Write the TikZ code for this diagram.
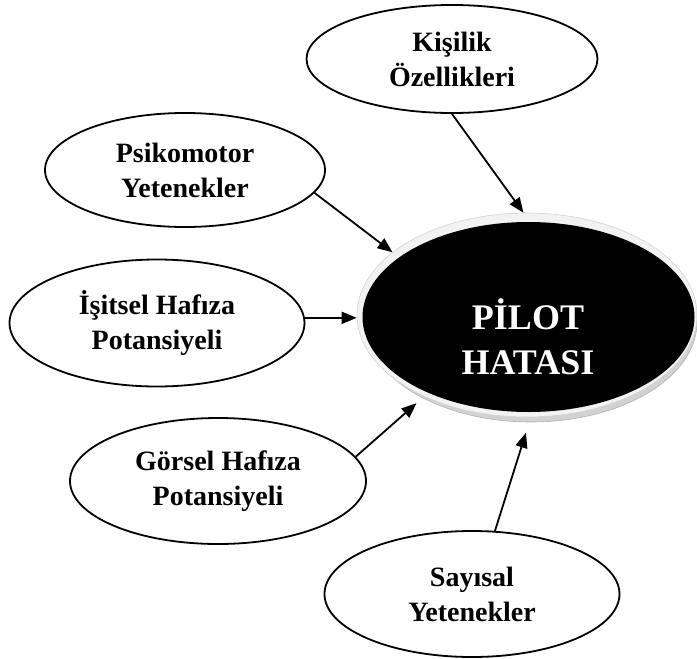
\documentclass[tikz,border=0pt]{standalone}
\usepackage{fontspec}
\setmainfont{Liberation Serif}
\usetikzlibrary{arrows.meta,shapes.geometric}

\tikzset{
  factor/.style={ellipse, draw=black, line width=1.8pt, fill=white,
    inner sep=0pt, align=center, font=\bfseries\fontsize{28}{35}\selectfont},
  link/.style={line width=1.8pt, -{Triangle[length=15pt,width=12pt]}},
}

\begin{document}
\begin{tikzpicture}[x=1pt,y=-1pt]
  \useasboundingbox (0,0) rectangle (697,659);

  % central element: shadow band, light rim and black body
  \node[ellipse, minimum width=332pt, minimum height=200pt, inner sep=0pt,
        fill=gray!35, draw=gray!60, line width=0.6pt] (golge) at (531,322) {};
  \node[ellipse, minimum width=340pt, minimum height=204pt, inner sep=0pt,
        fill=gray!10, draw=gray!35, line width=0.6pt] (rim) at (527,315) {};
  \node[ellipse, minimum width=332pt, minimum height=190pt, inner sep=0pt,
        fill=black] (hata) at (528.5,317) {};
  \node[text=white, align=center,
        font=\bfseries\fontsize{36}{45}\selectfont] (hatayazi) at (528,337)
        {PİLOT\\HATASI};

  % contributing factors
  \node[factor, minimum width=291pt, minimum height=108pt] (kis) at (452,59)
        {Kişilik\\Özellikleri};
  \node[factor, minimum width=280pt, minimum height=114pt] (psi) at (185,170)
        {Psikomotor\\Yetenekler};
  \node[factor, minimum width=295pt, minimum height=127pt] (isi) at (157,323)
        {İşitsel Hafıza\\Potansiyeli};
  \node[factor, minimum width=296pt, minimum height=126pt] (gor) at (218,481)
        {Görsel Hafıza\\Potansiyeli};
  \node[factor, minimum width=295pt, minimum height=126pt] (say) at (472,594)
        {Sayısal\\Yetenekler};

  % arrows into the central element
  \draw[link] (kis.south) -- (rim.92);
  \draw[link] (psi.-10) -- (rim.155);
  \draw[link] (isi.2) -- (isi.2 -| rim.west);
  \draw[link, shorten >=8pt] (gor.10) -- (golge.215);
  \draw[link, shorten >=11pt] (say.70) -- (golge.-91);
\end{tikzpicture}
\end{document}
